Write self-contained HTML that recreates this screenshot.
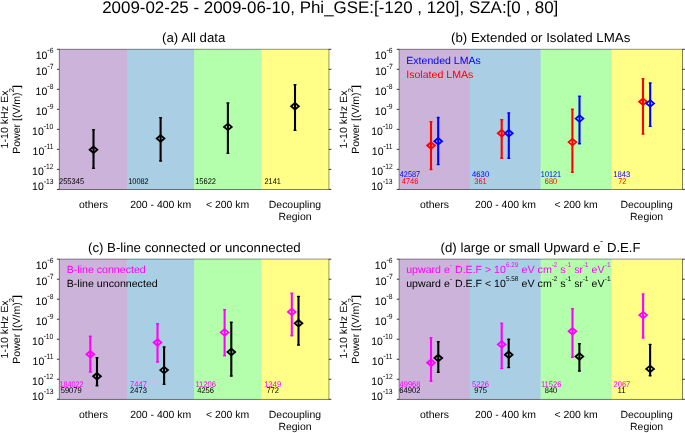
<!DOCTYPE html>
<html><head><meta charset="utf-8"><style>
html,body{margin:0;padding:0;background:#fff;}
svg{display:block;will-change:transform;}
text{font-family:"Liberation Sans", sans-serif;text-rendering:geometricPrecision;}
</style></head><body>
<svg width="685" height="433" viewBox="0 0 685 433">
<rect x="0" y="0" width="685" height="433" fill="#fff"/>
<rect x="59.30" y="49.30" width="269.50" height="140.10" fill="none" stroke="#222" stroke-width="0.8"/>
<g opacity="0.7">
<rect x="59.30" y="49.30" width="68.80" height="140.10" fill="#b694ca"/>
<rect x="127.10" y="49.30" width="68.00" height="140.10" fill="#87bcdb"/>
<rect x="194.10" y="49.30" width="68.20" height="140.10" fill="#94ff88"/>
<rect x="261.30" y="49.30" width="67.50" height="140.10" fill="#ffff55"/>
</g>
<line x1="56.90" y1="49.30" x2="59.30" y2="49.30" stroke="#222" stroke-width="0.9"/>
<line x1="328.80" y1="49.30" x2="331.30" y2="49.30" stroke="#222" stroke-width="0.9"/>
<line x1="56.90" y1="69.31" x2="59.30" y2="69.31" stroke="#222" stroke-width="0.9"/>
<line x1="328.80" y1="69.31" x2="331.30" y2="69.31" stroke="#222" stroke-width="0.9"/>
<line x1="56.90" y1="89.33" x2="59.30" y2="89.33" stroke="#222" stroke-width="0.9"/>
<line x1="328.80" y1="89.33" x2="331.30" y2="89.33" stroke="#222" stroke-width="0.9"/>
<line x1="56.90" y1="109.34" x2="59.30" y2="109.34" stroke="#222" stroke-width="0.9"/>
<line x1="328.80" y1="109.34" x2="331.30" y2="109.34" stroke="#222" stroke-width="0.9"/>
<line x1="56.90" y1="129.36" x2="59.30" y2="129.36" stroke="#222" stroke-width="0.9"/>
<line x1="328.80" y1="129.36" x2="331.30" y2="129.36" stroke="#222" stroke-width="0.9"/>
<line x1="56.90" y1="149.37" x2="59.30" y2="149.37" stroke="#222" stroke-width="0.9"/>
<line x1="328.80" y1="149.37" x2="331.30" y2="149.37" stroke="#222" stroke-width="0.9"/>
<line x1="56.90" y1="169.39" x2="59.30" y2="169.39" stroke="#222" stroke-width="0.9"/>
<line x1="328.80" y1="169.39" x2="331.30" y2="169.39" stroke="#222" stroke-width="0.9"/>
<line x1="56.90" y1="189.40" x2="59.30" y2="189.40" stroke="#222" stroke-width="0.9"/>
<line x1="328.80" y1="189.40" x2="331.30" y2="189.40" stroke="#222" stroke-width="0.9"/>
<rect x="399.20" y="49.30" width="283.20" height="140.10" fill="none" stroke="#222" stroke-width="0.8"/>
<g opacity="0.7">
<rect x="399.20" y="49.30" width="71.80" height="140.10" fill="#b694ca"/>
<rect x="470.00" y="49.30" width="71.60" height="140.10" fill="#87bcdb"/>
<rect x="540.60" y="49.30" width="71.90" height="140.10" fill="#94ff88"/>
<rect x="611.50" y="49.30" width="70.90" height="140.10" fill="#ffff55"/>
</g>
<line x1="396.80" y1="49.30" x2="399.20" y2="49.30" stroke="#222" stroke-width="0.9"/>
<line x1="682.40" y1="49.30" x2="684.90" y2="49.30" stroke="#222" stroke-width="0.9"/>
<line x1="396.80" y1="69.31" x2="399.20" y2="69.31" stroke="#222" stroke-width="0.9"/>
<line x1="682.40" y1="69.31" x2="684.90" y2="69.31" stroke="#222" stroke-width="0.9"/>
<line x1="396.80" y1="89.33" x2="399.20" y2="89.33" stroke="#222" stroke-width="0.9"/>
<line x1="682.40" y1="89.33" x2="684.90" y2="89.33" stroke="#222" stroke-width="0.9"/>
<line x1="396.80" y1="109.34" x2="399.20" y2="109.34" stroke="#222" stroke-width="0.9"/>
<line x1="682.40" y1="109.34" x2="684.90" y2="109.34" stroke="#222" stroke-width="0.9"/>
<line x1="396.80" y1="129.36" x2="399.20" y2="129.36" stroke="#222" stroke-width="0.9"/>
<line x1="682.40" y1="129.36" x2="684.90" y2="129.36" stroke="#222" stroke-width="0.9"/>
<line x1="396.80" y1="149.37" x2="399.20" y2="149.37" stroke="#222" stroke-width="0.9"/>
<line x1="682.40" y1="149.37" x2="684.90" y2="149.37" stroke="#222" stroke-width="0.9"/>
<line x1="396.80" y1="169.39" x2="399.20" y2="169.39" stroke="#222" stroke-width="0.9"/>
<line x1="682.40" y1="169.39" x2="684.90" y2="169.39" stroke="#222" stroke-width="0.9"/>
<line x1="396.80" y1="189.40" x2="399.20" y2="189.40" stroke="#222" stroke-width="0.9"/>
<line x1="682.40" y1="189.40" x2="684.90" y2="189.40" stroke="#222" stroke-width="0.9"/>
<rect x="59.30" y="259.20" width="269.50" height="140.10" fill="none" stroke="#222" stroke-width="0.8"/>
<g opacity="0.7">
<rect x="59.30" y="259.20" width="68.80" height="140.10" fill="#b694ca"/>
<rect x="127.10" y="259.20" width="68.00" height="140.10" fill="#87bcdb"/>
<rect x="194.10" y="259.20" width="68.20" height="140.10" fill="#94ff88"/>
<rect x="261.30" y="259.20" width="67.50" height="140.10" fill="#ffff55"/>
</g>
<line x1="56.90" y1="259.20" x2="59.30" y2="259.20" stroke="#222" stroke-width="0.9"/>
<line x1="328.80" y1="259.20" x2="331.30" y2="259.20" stroke="#222" stroke-width="0.9"/>
<line x1="56.90" y1="279.21" x2="59.30" y2="279.21" stroke="#222" stroke-width="0.9"/>
<line x1="328.80" y1="279.21" x2="331.30" y2="279.21" stroke="#222" stroke-width="0.9"/>
<line x1="56.90" y1="299.23" x2="59.30" y2="299.23" stroke="#222" stroke-width="0.9"/>
<line x1="328.80" y1="299.23" x2="331.30" y2="299.23" stroke="#222" stroke-width="0.9"/>
<line x1="56.90" y1="319.24" x2="59.30" y2="319.24" stroke="#222" stroke-width="0.9"/>
<line x1="328.80" y1="319.24" x2="331.30" y2="319.24" stroke="#222" stroke-width="0.9"/>
<line x1="56.90" y1="339.26" x2="59.30" y2="339.26" stroke="#222" stroke-width="0.9"/>
<line x1="328.80" y1="339.26" x2="331.30" y2="339.26" stroke="#222" stroke-width="0.9"/>
<line x1="56.90" y1="359.27" x2="59.30" y2="359.27" stroke="#222" stroke-width="0.9"/>
<line x1="328.80" y1="359.27" x2="331.30" y2="359.27" stroke="#222" stroke-width="0.9"/>
<line x1="56.90" y1="379.29" x2="59.30" y2="379.29" stroke="#222" stroke-width="0.9"/>
<line x1="328.80" y1="379.29" x2="331.30" y2="379.29" stroke="#222" stroke-width="0.9"/>
<line x1="56.90" y1="399.30" x2="59.30" y2="399.30" stroke="#222" stroke-width="0.9"/>
<line x1="328.80" y1="399.30" x2="331.30" y2="399.30" stroke="#222" stroke-width="0.9"/>
<rect x="399.20" y="259.20" width="283.20" height="140.10" fill="none" stroke="#222" stroke-width="0.8"/>
<g opacity="0.7">
<rect x="399.20" y="259.20" width="71.80" height="140.10" fill="#b694ca"/>
<rect x="470.00" y="259.20" width="71.60" height="140.10" fill="#87bcdb"/>
<rect x="540.60" y="259.20" width="71.90" height="140.10" fill="#94ff88"/>
<rect x="611.50" y="259.20" width="70.90" height="140.10" fill="#ffff55"/>
</g>
<line x1="396.80" y1="259.20" x2="399.20" y2="259.20" stroke="#222" stroke-width="0.9"/>
<line x1="682.40" y1="259.20" x2="684.90" y2="259.20" stroke="#222" stroke-width="0.9"/>
<line x1="396.80" y1="279.21" x2="399.20" y2="279.21" stroke="#222" stroke-width="0.9"/>
<line x1="682.40" y1="279.21" x2="684.90" y2="279.21" stroke="#222" stroke-width="0.9"/>
<line x1="396.80" y1="299.23" x2="399.20" y2="299.23" stroke="#222" stroke-width="0.9"/>
<line x1="682.40" y1="299.23" x2="684.90" y2="299.23" stroke="#222" stroke-width="0.9"/>
<line x1="396.80" y1="319.24" x2="399.20" y2="319.24" stroke="#222" stroke-width="0.9"/>
<line x1="682.40" y1="319.24" x2="684.90" y2="319.24" stroke="#222" stroke-width="0.9"/>
<line x1="396.80" y1="339.26" x2="399.20" y2="339.26" stroke="#222" stroke-width="0.9"/>
<line x1="682.40" y1="339.26" x2="684.90" y2="339.26" stroke="#222" stroke-width="0.9"/>
<line x1="396.80" y1="359.27" x2="399.20" y2="359.27" stroke="#222" stroke-width="0.9"/>
<line x1="682.40" y1="359.27" x2="684.90" y2="359.27" stroke="#222" stroke-width="0.9"/>
<line x1="396.80" y1="379.29" x2="399.20" y2="379.29" stroke="#222" stroke-width="0.9"/>
<line x1="682.40" y1="379.29" x2="684.90" y2="379.29" stroke="#222" stroke-width="0.9"/>
<line x1="396.80" y1="399.30" x2="399.20" y2="399.30" stroke="#222" stroke-width="0.9"/>
<line x1="682.40" y1="399.30" x2="684.90" y2="399.30" stroke="#222" stroke-width="0.9"/>
<line x1="93.50" y1="129.70" x2="93.50" y2="168.40" stroke="#000" stroke-width="2.1"/>
<line x1="92.65" y1="129.85" x2="94.35" y2="129.85" stroke="#000" stroke-width="1.5" stroke-linecap="round"/>
<line x1="92.65" y1="168.25" x2="94.35" y2="168.25" stroke="#000" stroke-width="1.5" stroke-linecap="round"/>
<path d="M89.65,149.70 L93.50,146.45 L97.35,149.70 L93.50,152.95 Z" fill="none" stroke="#000" stroke-width="1.8" stroke-linejoin="miter"/>
<line x1="160.60" y1="117.50" x2="160.60" y2="161.20" stroke="#000" stroke-width="2.1"/>
<line x1="159.75" y1="117.65" x2="161.45" y2="117.65" stroke="#000" stroke-width="1.5" stroke-linecap="round"/>
<line x1="159.75" y1="161.05" x2="161.45" y2="161.05" stroke="#000" stroke-width="1.5" stroke-linecap="round"/>
<path d="M156.75,138.50 L160.60,135.25 L164.45,138.50 L160.60,141.75 Z" fill="none" stroke="#000" stroke-width="1.8" stroke-linejoin="miter"/>
<line x1="227.90" y1="102.80" x2="227.90" y2="153.30" stroke="#000" stroke-width="2.1"/>
<line x1="227.05" y1="102.95" x2="228.75" y2="102.95" stroke="#000" stroke-width="1.5" stroke-linecap="round"/>
<line x1="227.05" y1="153.15" x2="228.75" y2="153.15" stroke="#000" stroke-width="1.5" stroke-linecap="round"/>
<path d="M224.05,126.90 L227.90,123.65 L231.75,126.90 L227.90,130.15 Z" fill="none" stroke="#000" stroke-width="1.8" stroke-linejoin="miter"/>
<line x1="295.00" y1="84.60" x2="295.00" y2="130.30" stroke="#000" stroke-width="2.1"/>
<line x1="294.15" y1="84.75" x2="295.85" y2="84.75" stroke="#000" stroke-width="1.5" stroke-linecap="round"/>
<line x1="294.15" y1="130.15" x2="295.85" y2="130.15" stroke="#000" stroke-width="1.5" stroke-linecap="round"/>
<path d="M291.15,106.30 L295.00,103.05 L298.85,106.30 L295.00,109.55 Z" fill="none" stroke="#000" stroke-width="1.8" stroke-linejoin="miter"/>
<line x1="431.00" y1="121.70" x2="431.00" y2="169.60" stroke="#ff0000" stroke-width="2.1"/>
<line x1="430.15" y1="121.85" x2="431.85" y2="121.85" stroke="#ff0000" stroke-width="1.5" stroke-linecap="round"/>
<line x1="430.15" y1="169.45" x2="431.85" y2="169.45" stroke="#ff0000" stroke-width="1.5" stroke-linecap="round"/>
<path d="M427.15,145.50 L431.00,142.25 L434.85,145.50 L431.00,148.75 Z" fill="none" stroke="#ff0000" stroke-width="1.8" stroke-linejoin="miter"/>
<line x1="438.20" y1="117.30" x2="438.20" y2="164.60" stroke="#0000ff" stroke-width="2.1"/>
<line x1="437.35" y1="117.45" x2="439.05" y2="117.45" stroke="#0000ff" stroke-width="1.5" stroke-linecap="round"/>
<line x1="437.35" y1="164.45" x2="439.05" y2="164.45" stroke="#0000ff" stroke-width="1.5" stroke-linecap="round"/>
<path d="M434.35,141.30 L438.20,138.05 L442.05,141.30 L438.20,144.55 Z" fill="none" stroke="#0000ff" stroke-width="1.8" stroke-linejoin="miter"/>
<line x1="501.70" y1="119.50" x2="501.70" y2="158.40" stroke="#ff0000" stroke-width="2.1"/>
<line x1="500.85" y1="119.65" x2="502.55" y2="119.65" stroke="#ff0000" stroke-width="1.5" stroke-linecap="round"/>
<line x1="500.85" y1="158.25" x2="502.55" y2="158.25" stroke="#ff0000" stroke-width="1.5" stroke-linecap="round"/>
<path d="M497.85,133.30 L501.70,130.05 L505.55,133.30 L501.70,136.55 Z" fill="none" stroke="#ff0000" stroke-width="1.8" stroke-linejoin="miter"/>
<line x1="508.80" y1="112.80" x2="508.80" y2="158.30" stroke="#0000ff" stroke-width="2.1"/>
<line x1="507.95" y1="112.95" x2="509.65" y2="112.95" stroke="#0000ff" stroke-width="1.5" stroke-linecap="round"/>
<line x1="507.95" y1="158.15" x2="509.65" y2="158.15" stroke="#0000ff" stroke-width="1.5" stroke-linecap="round"/>
<path d="M504.95,133.30 L508.80,130.05 L512.65,133.30 L508.80,136.55 Z" fill="none" stroke="#0000ff" stroke-width="1.8" stroke-linejoin="miter"/>
<line x1="572.40" y1="109.00" x2="572.40" y2="172.30" stroke="#ff0000" stroke-width="2.1"/>
<line x1="571.55" y1="109.15" x2="573.25" y2="109.15" stroke="#ff0000" stroke-width="1.5" stroke-linecap="round"/>
<line x1="571.55" y1="172.15" x2="573.25" y2="172.15" stroke="#ff0000" stroke-width="1.5" stroke-linecap="round"/>
<path d="M568.55,142.10 L572.40,138.85 L576.25,142.10 L572.40,145.35 Z" fill="none" stroke="#ff0000" stroke-width="1.8" stroke-linejoin="miter"/>
<line x1="579.50" y1="96.10" x2="579.50" y2="143.80" stroke="#0000ff" stroke-width="2.1"/>
<line x1="578.65" y1="96.25" x2="580.35" y2="96.25" stroke="#0000ff" stroke-width="1.5" stroke-linecap="round"/>
<line x1="578.65" y1="143.65" x2="580.35" y2="143.65" stroke="#0000ff" stroke-width="1.5" stroke-linecap="round"/>
<path d="M575.65,118.60 L579.50,115.35 L583.35,118.60 L579.50,121.85 Z" fill="none" stroke="#0000ff" stroke-width="1.8" stroke-linejoin="miter"/>
<line x1="643.00" y1="78.60" x2="643.00" y2="134.20" stroke="#ff0000" stroke-width="2.1"/>
<line x1="642.15" y1="78.75" x2="643.85" y2="78.75" stroke="#ff0000" stroke-width="1.5" stroke-linecap="round"/>
<line x1="642.15" y1="134.05" x2="643.85" y2="134.05" stroke="#ff0000" stroke-width="1.5" stroke-linecap="round"/>
<path d="M639.15,101.70 L643.00,98.45 L646.85,101.70 L643.00,104.95 Z" fill="none" stroke="#ff0000" stroke-width="1.8" stroke-linejoin="miter"/>
<line x1="650.20" y1="82.90" x2="650.20" y2="126.50" stroke="#0000ff" stroke-width="2.1"/>
<line x1="649.35" y1="83.05" x2="651.05" y2="83.05" stroke="#0000ff" stroke-width="1.5" stroke-linecap="round"/>
<line x1="649.35" y1="126.35" x2="651.05" y2="126.35" stroke="#0000ff" stroke-width="1.5" stroke-linecap="round"/>
<path d="M646.35,103.40 L650.20,100.15 L654.05,103.40 L650.20,106.65 Z" fill="none" stroke="#0000ff" stroke-width="1.8" stroke-linejoin="miter"/>
<line x1="90.30" y1="336.20" x2="90.30" y2="372.20" stroke="#ff00ff" stroke-width="2.1"/>
<line x1="89.45" y1="336.35" x2="91.15" y2="336.35" stroke="#ff00ff" stroke-width="1.5" stroke-linecap="round"/>
<line x1="89.45" y1="372.05" x2="91.15" y2="372.05" stroke="#ff00ff" stroke-width="1.5" stroke-linecap="round"/>
<path d="M86.45,354.30 L90.30,351.05 L94.15,354.30 L90.30,357.55 Z" fill="none" stroke="#ff00ff" stroke-width="1.8" stroke-linejoin="miter"/>
<line x1="97.00" y1="357.70" x2="97.00" y2="385.90" stroke="#000" stroke-width="2.1"/>
<line x1="96.15" y1="357.85" x2="97.85" y2="357.85" stroke="#000" stroke-width="1.5" stroke-linecap="round"/>
<line x1="96.15" y1="385.75" x2="97.85" y2="385.75" stroke="#000" stroke-width="1.5" stroke-linecap="round"/>
<path d="M93.15,376.20 L97.00,372.95 L100.85,376.20 L97.00,379.45 Z" fill="none" stroke="#000" stroke-width="1.8" stroke-linejoin="miter"/>
<line x1="157.50" y1="323.60" x2="157.50" y2="362.20" stroke="#ff00ff" stroke-width="2.1"/>
<line x1="156.65" y1="323.75" x2="158.35" y2="323.75" stroke="#ff00ff" stroke-width="1.5" stroke-linecap="round"/>
<line x1="156.65" y1="362.05" x2="158.35" y2="362.05" stroke="#ff00ff" stroke-width="1.5" stroke-linecap="round"/>
<path d="M153.65,342.50 L157.50,339.25 L161.35,342.50 L157.50,345.75 Z" fill="none" stroke="#ff00ff" stroke-width="1.8" stroke-linejoin="miter"/>
<line x1="164.10" y1="346.80" x2="164.10" y2="384.40" stroke="#000" stroke-width="2.1"/>
<line x1="163.25" y1="346.95" x2="164.95" y2="346.95" stroke="#000" stroke-width="1.5" stroke-linecap="round"/>
<line x1="163.25" y1="384.25" x2="164.95" y2="384.25" stroke="#000" stroke-width="1.5" stroke-linecap="round"/>
<path d="M160.25,370.10 L164.10,366.85 L167.95,370.10 L164.10,373.35 Z" fill="none" stroke="#000" stroke-width="1.8" stroke-linejoin="miter"/>
<line x1="224.60" y1="309.70" x2="224.60" y2="356.00" stroke="#ff00ff" stroke-width="2.1"/>
<line x1="223.75" y1="309.85" x2="225.45" y2="309.85" stroke="#ff00ff" stroke-width="1.5" stroke-linecap="round"/>
<line x1="223.75" y1="355.85" x2="225.45" y2="355.85" stroke="#ff00ff" stroke-width="1.5" stroke-linecap="round"/>
<path d="M220.75,332.40 L224.60,329.15 L228.45,332.40 L224.60,335.65 Z" fill="none" stroke="#ff00ff" stroke-width="1.8" stroke-linejoin="miter"/>
<line x1="231.30" y1="322.20" x2="231.30" y2="376.20" stroke="#000" stroke-width="2.1"/>
<line x1="230.45" y1="322.35" x2="232.15" y2="322.35" stroke="#000" stroke-width="1.5" stroke-linecap="round"/>
<line x1="230.45" y1="376.05" x2="232.15" y2="376.05" stroke="#000" stroke-width="1.5" stroke-linecap="round"/>
<path d="M227.45,352.00 L231.30,348.75 L235.15,352.00 L231.30,355.25 Z" fill="none" stroke="#000" stroke-width="1.8" stroke-linejoin="miter"/>
<line x1="291.80" y1="293.00" x2="291.80" y2="336.00" stroke="#ff00ff" stroke-width="2.1"/>
<line x1="290.95" y1="293.15" x2="292.65" y2="293.15" stroke="#ff00ff" stroke-width="1.5" stroke-linecap="round"/>
<line x1="290.95" y1="335.85" x2="292.65" y2="335.85" stroke="#ff00ff" stroke-width="1.5" stroke-linecap="round"/>
<path d="M287.95,311.90 L291.80,308.65 L295.65,311.90 L291.80,315.15 Z" fill="none" stroke="#ff00ff" stroke-width="1.8" stroke-linejoin="miter"/>
<line x1="298.50" y1="296.30" x2="298.50" y2="345.20" stroke="#000" stroke-width="2.1"/>
<line x1="297.65" y1="296.45" x2="299.35" y2="296.45" stroke="#000" stroke-width="1.5" stroke-linecap="round"/>
<line x1="297.65" y1="345.05" x2="299.35" y2="345.05" stroke="#000" stroke-width="1.5" stroke-linecap="round"/>
<path d="M294.65,323.20 L298.50,319.95 L302.35,323.20 L298.50,326.45 Z" fill="none" stroke="#000" stroke-width="1.8" stroke-linejoin="miter"/>
<line x1="431.00" y1="337.50" x2="431.00" y2="381.50" stroke="#ff00ff" stroke-width="2.1"/>
<line x1="430.15" y1="337.65" x2="431.85" y2="337.65" stroke="#ff00ff" stroke-width="1.5" stroke-linecap="round"/>
<line x1="430.15" y1="381.35" x2="431.85" y2="381.35" stroke="#ff00ff" stroke-width="1.5" stroke-linecap="round"/>
<path d="M427.15,362.70 L431.00,359.45 L434.85,362.70 L431.00,365.95 Z" fill="none" stroke="#ff00ff" stroke-width="1.8" stroke-linejoin="miter"/>
<line x1="438.30" y1="341.70" x2="438.30" y2="372.40" stroke="#000" stroke-width="2.1"/>
<line x1="437.45" y1="341.85" x2="439.15" y2="341.85" stroke="#000" stroke-width="1.5" stroke-linecap="round"/>
<line x1="437.45" y1="372.25" x2="439.15" y2="372.25" stroke="#000" stroke-width="1.5" stroke-linecap="round"/>
<path d="M434.45,358.00 L438.30,354.75 L442.15,358.00 L438.30,361.25 Z" fill="none" stroke="#000" stroke-width="1.8" stroke-linejoin="miter"/>
<line x1="501.70" y1="323.20" x2="501.70" y2="368.70" stroke="#ff00ff" stroke-width="2.1"/>
<line x1="500.85" y1="323.35" x2="502.55" y2="323.35" stroke="#ff00ff" stroke-width="1.5" stroke-linecap="round"/>
<line x1="500.85" y1="368.55" x2="502.55" y2="368.55" stroke="#ff00ff" stroke-width="1.5" stroke-linecap="round"/>
<path d="M497.85,344.40 L501.70,341.15 L505.55,344.40 L501.70,347.65 Z" fill="none" stroke="#ff00ff" stroke-width="1.8" stroke-linejoin="miter"/>
<line x1="508.70" y1="339.20" x2="508.70" y2="367.70" stroke="#000" stroke-width="2.1"/>
<line x1="507.85" y1="339.35" x2="509.55" y2="339.35" stroke="#000" stroke-width="1.5" stroke-linecap="round"/>
<line x1="507.85" y1="367.55" x2="509.55" y2="367.55" stroke="#000" stroke-width="1.5" stroke-linecap="round"/>
<path d="M504.85,354.70 L508.70,351.45 L512.55,354.70 L508.70,357.95 Z" fill="none" stroke="#000" stroke-width="1.8" stroke-linejoin="miter"/>
<line x1="572.50" y1="308.50" x2="572.50" y2="357.40" stroke="#ff00ff" stroke-width="2.1"/>
<line x1="571.65" y1="308.65" x2="573.35" y2="308.65" stroke="#ff00ff" stroke-width="1.5" stroke-linecap="round"/>
<line x1="571.65" y1="357.25" x2="573.35" y2="357.25" stroke="#ff00ff" stroke-width="1.5" stroke-linecap="round"/>
<path d="M568.65,331.30 L572.50,328.05 L576.35,331.30 L572.50,334.55 Z" fill="none" stroke="#ff00ff" stroke-width="1.8" stroke-linejoin="miter"/>
<line x1="579.40" y1="343.60" x2="579.40" y2="371.20" stroke="#000" stroke-width="2.1"/>
<line x1="578.55" y1="343.75" x2="580.25" y2="343.75" stroke="#000" stroke-width="1.5" stroke-linecap="round"/>
<line x1="578.55" y1="371.05" x2="580.25" y2="371.05" stroke="#000" stroke-width="1.5" stroke-linecap="round"/>
<path d="M575.55,356.50 L579.40,353.25 L583.25,356.50 L579.40,359.75 Z" fill="none" stroke="#000" stroke-width="1.8" stroke-linejoin="miter"/>
<line x1="643.10" y1="293.90" x2="643.10" y2="338.10" stroke="#ff00ff" stroke-width="2.1"/>
<line x1="642.25" y1="294.05" x2="643.95" y2="294.05" stroke="#ff00ff" stroke-width="1.5" stroke-linecap="round"/>
<line x1="642.25" y1="337.95" x2="643.95" y2="337.95" stroke="#ff00ff" stroke-width="1.5" stroke-linecap="round"/>
<path d="M639.25,315.10 L643.10,311.85 L646.95,315.10 L643.10,318.35 Z" fill="none" stroke="#ff00ff" stroke-width="1.8" stroke-linejoin="miter"/>
<line x1="650.10" y1="344.40" x2="650.10" y2="376.00" stroke="#000" stroke-width="2.1"/>
<line x1="649.25" y1="344.55" x2="650.95" y2="344.55" stroke="#000" stroke-width="1.5" stroke-linecap="round"/>
<line x1="649.25" y1="375.85" x2="650.95" y2="375.85" stroke="#000" stroke-width="1.5" stroke-linecap="round"/>
<path d="M646.25,368.90 L650.10,365.65 L653.95,368.90 L650.10,372.15 Z" fill="none" stroke="#000" stroke-width="1.8" stroke-linejoin="miter"/>
<text transform="translate(102.15,12.50) scale(1.0017,1)" font-size="16.90" fill="#000" font-family='"Liberation Sans", sans-serif'>2009-02-25 - 2009-06-10, Phi_GSE:[-120 , 120], SZA:[0 , 80]</text>
<text transform="translate(162.07,41.90) scale(1.0191,1)" font-size="13.00" fill="#000" font-family='"Liberation Sans", sans-serif'>(a) All data</text>
<text transform="translate(450.97,41.90) scale(1.0211,1)" font-size="13.00" fill="#000" font-family='"Liberation Sans", sans-serif'>(b) Extended or Isolated LMAs</text>
<text transform="translate(87.97,251.80) scale(1.0187,1)" font-size="13.00" fill="#000" font-family='"Liberation Sans", sans-serif'>(c) B-line connected or unconnected</text>
<text transform="translate(440.57,251.80) scale(1.0192,1)" font-size="13.00" fill="#000" font-family='"Liberation Sans", sans-serif'>(d) large or small Upward e</text>
<text transform="translate(600.09,244.00) scale(1.0080,1)" font-size="9.00" fill="#000" font-family='"Liberation Sans", sans-serif'>-</text>
<text transform="translate(606.92,251.80) scale(1.0088,1)" font-size="13.00" fill="#000" font-family='"Liberation Sans", sans-serif'>D.E.F</text>
<text transform="translate(78.98,207.90) scale(1.0050,1)" font-size="10.40" fill="#000" font-family='"Liberation Sans", sans-serif'>others</text>
<text transform="translate(130.18,207.90) scale(1.0050,1)" font-size="10.40" fill="#000" font-family='"Liberation Sans", sans-serif'>200 - 400 km</text>
<text transform="translate(205.99,207.90) scale(1.0050,1)" font-size="10.40" fill="#000" font-family='"Liberation Sans", sans-serif'>&lt; 200 km</text>
<text transform="translate(268.80,207.90) scale(1.0050,1)" font-size="10.40" fill="#000" font-family='"Liberation Sans", sans-serif'>Decoupling</text>
<text transform="translate(278.41,220.20) scale(1.0050,1)" font-size="10.40" fill="#000" font-family='"Liberation Sans", sans-serif'>Region</text>
<text transform="translate(419.98,207.90) scale(1.0050,1)" font-size="10.40" fill="#000" font-family='"Liberation Sans", sans-serif'>others</text>
<text transform="translate(474.88,207.90) scale(1.0050,1)" font-size="10.40" fill="#000" font-family='"Liberation Sans", sans-serif'>200 - 400 km</text>
<text transform="translate(554.44,207.90) scale(1.0050,1)" font-size="10.40" fill="#000" font-family='"Liberation Sans", sans-serif'>&lt; 200 km</text>
<text transform="translate(620.45,207.90) scale(1.0050,1)" font-size="10.40" fill="#000" font-family='"Liberation Sans", sans-serif'>Decoupling</text>
<text transform="translate(630.06,220.20) scale(1.0050,1)" font-size="10.40" fill="#000" font-family='"Liberation Sans", sans-serif'>Region</text>
<text transform="translate(78.98,417.90) scale(1.0050,1)" font-size="10.40" fill="#000" font-family='"Liberation Sans", sans-serif'>others</text>
<text transform="translate(130.18,417.90) scale(1.0050,1)" font-size="10.40" fill="#000" font-family='"Liberation Sans", sans-serif'>200 - 400 km</text>
<text transform="translate(205.99,417.90) scale(1.0050,1)" font-size="10.40" fill="#000" font-family='"Liberation Sans", sans-serif'>&lt; 200 km</text>
<text transform="translate(268.80,417.90) scale(1.0050,1)" font-size="10.40" fill="#000" font-family='"Liberation Sans", sans-serif'>Decoupling</text>
<text transform="translate(278.41,430.20) scale(1.0050,1)" font-size="10.40" fill="#000" font-family='"Liberation Sans", sans-serif'>Region</text>
<text transform="translate(419.98,417.90) scale(1.0050,1)" font-size="10.40" fill="#000" font-family='"Liberation Sans", sans-serif'>others</text>
<text transform="translate(474.88,417.90) scale(1.0050,1)" font-size="10.40" fill="#000" font-family='"Liberation Sans", sans-serif'>200 - 400 km</text>
<text transform="translate(554.44,417.90) scale(1.0050,1)" font-size="10.40" fill="#000" font-family='"Liberation Sans", sans-serif'>&lt; 200 km</text>
<text transform="translate(620.45,417.90) scale(1.0050,1)" font-size="10.40" fill="#000" font-family='"Liberation Sans", sans-serif'>Decoupling</text>
<text transform="translate(630.06,430.20) scale(1.0050,1)" font-size="10.40" fill="#000" font-family='"Liberation Sans", sans-serif'>Region</text>
<text transform="translate(49.64,52.65) scale(0.9000,1)" font-size="7.50" fill="#000" font-family='"Liberation Sans", sans-serif'>6</text>
<rect x="47.53" y="49.95" width="1.90" height="0.75" fill="#000" fill-opacity="0.85"/>
<text transform="translate(35.64,58.65) scale(0.9657,1)" font-size="10.90" fill="#000" font-family='"Liberation Sans", sans-serif'>10</text>
<text transform="translate(49.69,68.66) scale(0.9000,1)" font-size="7.50" fill="#000" font-family='"Liberation Sans", sans-serif'>7</text>
<rect x="47.60" y="65.96" width="1.90" height="0.75" fill="#000" fill-opacity="0.85"/>
<text transform="translate(35.71,74.66) scale(0.9657,1)" font-size="10.90" fill="#000" font-family='"Liberation Sans", sans-serif'>10</text>
<text transform="translate(49.64,88.68) scale(0.9000,1)" font-size="7.50" fill="#000" font-family='"Liberation Sans", sans-serif'>8</text>
<rect x="47.48" y="85.98" width="1.90" height="0.75" fill="#000" fill-opacity="0.85"/>
<text transform="translate(35.59,94.68) scale(0.9657,1)" font-size="10.90" fill="#000" font-family='"Liberation Sans", sans-serif'>10</text>
<text transform="translate(49.66,108.69) scale(0.9000,1)" font-size="7.50" fill="#000" font-family='"Liberation Sans", sans-serif'>9</text>
<rect x="47.53" y="105.99" width="1.90" height="0.75" fill="#000" fill-opacity="0.85"/>
<text transform="translate(35.64,114.69) scale(0.9657,1)" font-size="10.90" fill="#000" font-family='"Liberation Sans", sans-serif'>10</text>
<text transform="translate(45.86,128.71) scale(0.9000,1)" font-size="7.50" fill="#000" font-family='"Liberation Sans", sans-serif'>10</text>
<rect x="43.92" y="126.01" width="1.90" height="0.75" fill="#000" fill-opacity="0.85"/>
<text transform="translate(32.03,134.71) scale(0.9657,1)" font-size="10.90" fill="#000" font-family='"Liberation Sans", sans-serif'>10</text>
<text transform="translate(46.42,148.72) scale(0.9000,1)" font-size="7.50" fill="#000" font-family='"Liberation Sans", sans-serif'>11</text>
<rect x="44.47" y="146.02" width="1.90" height="0.75" fill="#000" fill-opacity="0.85"/>
<text transform="translate(32.58,154.72) scale(0.9657,1)" font-size="10.90" fill="#000" font-family='"Liberation Sans", sans-serif'>10</text>
<text transform="translate(45.95,168.74) scale(0.9000,1)" font-size="7.50" fill="#000" font-family='"Liberation Sans", sans-serif'>12</text>
<rect x="44.00" y="166.04" width="1.90" height="0.75" fill="#000" fill-opacity="0.85"/>
<text transform="translate(32.11,174.74) scale(0.9657,1)" font-size="10.90" fill="#000" font-family='"Liberation Sans", sans-serif'>10</text>
<text transform="translate(45.89,184.25) scale(0.9000,1)" font-size="7.50" fill="#000" font-family='"Liberation Sans", sans-serif'>13</text>
<rect x="43.95" y="181.55" width="1.90" height="0.75" fill="#000" fill-opacity="0.85"/>
<text transform="translate(32.06,190.25) scale(0.9657,1)" font-size="10.90" fill="#000" font-family='"Liberation Sans", sans-serif'>10</text>
<text transform="translate(388.84,52.65) scale(0.9000,1)" font-size="7.50" fill="#000" font-family='"Liberation Sans", sans-serif'>6</text>
<rect x="386.73" y="49.95" width="1.90" height="0.75" fill="#000" fill-opacity="0.85"/>
<text transform="translate(374.84,58.65) scale(0.9657,1)" font-size="10.90" fill="#000" font-family='"Liberation Sans", sans-serif'>10</text>
<text transform="translate(388.89,68.66) scale(0.9000,1)" font-size="7.50" fill="#000" font-family='"Liberation Sans", sans-serif'>7</text>
<rect x="386.80" y="65.96" width="1.90" height="0.75" fill="#000" fill-opacity="0.85"/>
<text transform="translate(374.91,74.66) scale(0.9657,1)" font-size="10.90" fill="#000" font-family='"Liberation Sans", sans-serif'>10</text>
<text transform="translate(388.84,88.68) scale(0.9000,1)" font-size="7.50" fill="#000" font-family='"Liberation Sans", sans-serif'>8</text>
<rect x="386.68" y="85.98" width="1.90" height="0.75" fill="#000" fill-opacity="0.85"/>
<text transform="translate(374.79,94.68) scale(0.9657,1)" font-size="10.90" fill="#000" font-family='"Liberation Sans", sans-serif'>10</text>
<text transform="translate(388.86,108.69) scale(0.9000,1)" font-size="7.50" fill="#000" font-family='"Liberation Sans", sans-serif'>9</text>
<rect x="386.73" y="105.99" width="1.90" height="0.75" fill="#000" fill-opacity="0.85"/>
<text transform="translate(374.84,114.69) scale(0.9657,1)" font-size="10.90" fill="#000" font-family='"Liberation Sans", sans-serif'>10</text>
<text transform="translate(385.06,128.71) scale(0.9000,1)" font-size="7.50" fill="#000" font-family='"Liberation Sans", sans-serif'>10</text>
<rect x="383.12" y="126.01" width="1.90" height="0.75" fill="#000" fill-opacity="0.85"/>
<text transform="translate(371.23,134.71) scale(0.9657,1)" font-size="10.90" fill="#000" font-family='"Liberation Sans", sans-serif'>10</text>
<text transform="translate(385.62,148.72) scale(0.9000,1)" font-size="7.50" fill="#000" font-family='"Liberation Sans", sans-serif'>11</text>
<rect x="383.67" y="146.02" width="1.90" height="0.75" fill="#000" fill-opacity="0.85"/>
<text transform="translate(371.78,154.72) scale(0.9657,1)" font-size="10.90" fill="#000" font-family='"Liberation Sans", sans-serif'>10</text>
<text transform="translate(385.14,168.74) scale(0.9000,1)" font-size="7.50" fill="#000" font-family='"Liberation Sans", sans-serif'>12</text>
<rect x="383.20" y="166.04" width="1.90" height="0.75" fill="#000" fill-opacity="0.85"/>
<text transform="translate(371.31,174.74) scale(0.9657,1)" font-size="10.90" fill="#000" font-family='"Liberation Sans", sans-serif'>10</text>
<text transform="translate(385.09,184.25) scale(0.9000,1)" font-size="7.50" fill="#000" font-family='"Liberation Sans", sans-serif'>13</text>
<rect x="383.15" y="181.55" width="1.90" height="0.75" fill="#000" fill-opacity="0.85"/>
<text transform="translate(371.26,190.25) scale(0.9657,1)" font-size="10.90" fill="#000" font-family='"Liberation Sans", sans-serif'>10</text>
<text transform="translate(49.64,262.55) scale(0.9000,1)" font-size="7.50" fill="#000" font-family='"Liberation Sans", sans-serif'>6</text>
<rect x="47.53" y="259.85" width="1.90" height="0.75" fill="#000" fill-opacity="0.85"/>
<text transform="translate(35.64,268.55) scale(0.9657,1)" font-size="10.90" fill="#000" font-family='"Liberation Sans", sans-serif'>10</text>
<text transform="translate(49.69,278.56) scale(0.9000,1)" font-size="7.50" fill="#000" font-family='"Liberation Sans", sans-serif'>7</text>
<rect x="47.60" y="275.86" width="1.90" height="0.75" fill="#000" fill-opacity="0.85"/>
<text transform="translate(35.71,284.56) scale(0.9657,1)" font-size="10.90" fill="#000" font-family='"Liberation Sans", sans-serif'>10</text>
<text transform="translate(49.64,298.58) scale(0.9000,1)" font-size="7.50" fill="#000" font-family='"Liberation Sans", sans-serif'>8</text>
<rect x="47.48" y="295.88" width="1.90" height="0.75" fill="#000" fill-opacity="0.85"/>
<text transform="translate(35.59,304.58) scale(0.9657,1)" font-size="10.90" fill="#000" font-family='"Liberation Sans", sans-serif'>10</text>
<text transform="translate(49.66,318.59) scale(0.9000,1)" font-size="7.50" fill="#000" font-family='"Liberation Sans", sans-serif'>9</text>
<rect x="47.53" y="315.89" width="1.90" height="0.75" fill="#000" fill-opacity="0.85"/>
<text transform="translate(35.64,324.59) scale(0.9657,1)" font-size="10.90" fill="#000" font-family='"Liberation Sans", sans-serif'>10</text>
<text transform="translate(45.86,338.61) scale(0.9000,1)" font-size="7.50" fill="#000" font-family='"Liberation Sans", sans-serif'>10</text>
<rect x="43.92" y="335.91" width="1.90" height="0.75" fill="#000" fill-opacity="0.85"/>
<text transform="translate(32.03,344.61) scale(0.9657,1)" font-size="10.90" fill="#000" font-family='"Liberation Sans", sans-serif'>10</text>
<text transform="translate(46.42,358.62) scale(0.9000,1)" font-size="7.50" fill="#000" font-family='"Liberation Sans", sans-serif'>11</text>
<rect x="44.47" y="355.92" width="1.90" height="0.75" fill="#000" fill-opacity="0.85"/>
<text transform="translate(32.58,364.62) scale(0.9657,1)" font-size="10.90" fill="#000" font-family='"Liberation Sans", sans-serif'>10</text>
<text transform="translate(45.95,378.64) scale(0.9000,1)" font-size="7.50" fill="#000" font-family='"Liberation Sans", sans-serif'>12</text>
<rect x="44.00" y="375.94" width="1.90" height="0.75" fill="#000" fill-opacity="0.85"/>
<text transform="translate(32.11,384.64) scale(0.9657,1)" font-size="10.90" fill="#000" font-family='"Liberation Sans", sans-serif'>10</text>
<text transform="translate(45.89,394.15) scale(0.9000,1)" font-size="7.50" fill="#000" font-family='"Liberation Sans", sans-serif'>13</text>
<rect x="43.95" y="391.45" width="1.90" height="0.75" fill="#000" fill-opacity="0.85"/>
<text transform="translate(32.06,400.15) scale(0.9657,1)" font-size="10.90" fill="#000" font-family='"Liberation Sans", sans-serif'>10</text>
<text transform="translate(388.84,262.55) scale(0.9000,1)" font-size="7.50" fill="#000" font-family='"Liberation Sans", sans-serif'>6</text>
<rect x="386.73" y="259.85" width="1.90" height="0.75" fill="#000" fill-opacity="0.85"/>
<text transform="translate(374.84,268.55) scale(0.9657,1)" font-size="10.90" fill="#000" font-family='"Liberation Sans", sans-serif'>10</text>
<text transform="translate(388.89,278.56) scale(0.9000,1)" font-size="7.50" fill="#000" font-family='"Liberation Sans", sans-serif'>7</text>
<rect x="386.80" y="275.86" width="1.90" height="0.75" fill="#000" fill-opacity="0.85"/>
<text transform="translate(374.91,284.56) scale(0.9657,1)" font-size="10.90" fill="#000" font-family='"Liberation Sans", sans-serif'>10</text>
<text transform="translate(388.84,298.58) scale(0.9000,1)" font-size="7.50" fill="#000" font-family='"Liberation Sans", sans-serif'>8</text>
<rect x="386.68" y="295.88" width="1.90" height="0.75" fill="#000" fill-opacity="0.85"/>
<text transform="translate(374.79,304.58) scale(0.9657,1)" font-size="10.90" fill="#000" font-family='"Liberation Sans", sans-serif'>10</text>
<text transform="translate(388.86,318.59) scale(0.9000,1)" font-size="7.50" fill="#000" font-family='"Liberation Sans", sans-serif'>9</text>
<rect x="386.73" y="315.89" width="1.90" height="0.75" fill="#000" fill-opacity="0.85"/>
<text transform="translate(374.84,324.59) scale(0.9657,1)" font-size="10.90" fill="#000" font-family='"Liberation Sans", sans-serif'>10</text>
<text transform="translate(385.06,338.61) scale(0.9000,1)" font-size="7.50" fill="#000" font-family='"Liberation Sans", sans-serif'>10</text>
<rect x="383.12" y="335.91" width="1.90" height="0.75" fill="#000" fill-opacity="0.85"/>
<text transform="translate(371.23,344.61) scale(0.9657,1)" font-size="10.90" fill="#000" font-family='"Liberation Sans", sans-serif'>10</text>
<text transform="translate(385.62,358.62) scale(0.9000,1)" font-size="7.50" fill="#000" font-family='"Liberation Sans", sans-serif'>11</text>
<rect x="383.67" y="355.92" width="1.90" height="0.75" fill="#000" fill-opacity="0.85"/>
<text transform="translate(371.78,364.62) scale(0.9657,1)" font-size="10.90" fill="#000" font-family='"Liberation Sans", sans-serif'>10</text>
<text transform="translate(385.14,378.64) scale(0.9000,1)" font-size="7.50" fill="#000" font-family='"Liberation Sans", sans-serif'>12</text>
<rect x="383.20" y="375.94" width="1.90" height="0.75" fill="#000" fill-opacity="0.85"/>
<text transform="translate(371.31,384.64) scale(0.9657,1)" font-size="10.90" fill="#000" font-family='"Liberation Sans", sans-serif'>10</text>
<text transform="translate(385.09,394.15) scale(0.9000,1)" font-size="7.50" fill="#000" font-family='"Liberation Sans", sans-serif'>13</text>
<rect x="383.15" y="391.45" width="1.90" height="0.75" fill="#000" fill-opacity="0.85"/>
<text transform="translate(371.26,400.15) scale(0.9657,1)" font-size="10.90" fill="#000" font-family='"Liberation Sans", sans-serif'>10</text>
<text transform="translate(8.10,148.50) rotate(-90) scale(1.0243,1)" font-size="10.40" fill="#000" font-family='"Liberation Sans", sans-serif'>1-10 kHz Ex</text>
<text transform="translate(20.40,153.77) rotate(-90) scale(1.0127,1)" font-size="10.40" fill="#000" font-family='"Liberation Sans", sans-serif'>Power [(V/m)</text>
<text transform="translate(14.00,92.37) rotate(-90) scale(1.0236,1)" font-size="7.30" fill="#000" font-family='"Liberation Sans", sans-serif'>2</text>
<text transform="translate(20.40,88.50) rotate(-90) scale(1.2500,1)" font-size="10.40" fill="#000" font-family='"Liberation Sans", sans-serif'>]</text>
<text transform="translate(346.70,148.50) rotate(-90) scale(1.0243,1)" font-size="10.40" fill="#000" font-family='"Liberation Sans", sans-serif'>1-10 kHz Ex</text>
<text transform="translate(359.00,153.77) rotate(-90) scale(1.0127,1)" font-size="10.40" fill="#000" font-family='"Liberation Sans", sans-serif'>Power [(V/m)</text>
<text transform="translate(352.60,92.37) rotate(-90) scale(1.0236,1)" font-size="7.30" fill="#000" font-family='"Liberation Sans", sans-serif'>2</text>
<text transform="translate(359.00,88.50) rotate(-90) scale(1.2500,1)" font-size="10.40" fill="#000" font-family='"Liberation Sans", sans-serif'>]</text>
<text transform="translate(8.10,358.40) rotate(-90) scale(1.0243,1)" font-size="10.40" fill="#000" font-family='"Liberation Sans", sans-serif'>1-10 kHz Ex</text>
<text transform="translate(20.40,363.67) rotate(-90) scale(1.0127,1)" font-size="10.40" fill="#000" font-family='"Liberation Sans", sans-serif'>Power [(V/m)</text>
<text transform="translate(14.00,302.27) rotate(-90) scale(1.0236,1)" font-size="7.30" fill="#000" font-family='"Liberation Sans", sans-serif'>2</text>
<text transform="translate(20.40,298.40) rotate(-90) scale(1.2500,1)" font-size="10.40" fill="#000" font-family='"Liberation Sans", sans-serif'>]</text>
<text transform="translate(346.70,358.40) rotate(-90) scale(1.0243,1)" font-size="10.40" fill="#000" font-family='"Liberation Sans", sans-serif'>1-10 kHz Ex</text>
<text transform="translate(359.00,363.67) rotate(-90) scale(1.0127,1)" font-size="10.40" fill="#000" font-family='"Liberation Sans", sans-serif'>Power [(V/m)</text>
<text transform="translate(352.60,302.27) rotate(-90) scale(1.0236,1)" font-size="7.30" fill="#000" font-family='"Liberation Sans", sans-serif'>2</text>
<text transform="translate(359.00,298.40) rotate(-90) scale(1.2500,1)" font-size="10.40" fill="#000" font-family='"Liberation Sans", sans-serif'>]</text>
<text transform="translate(59.02,183.90) scale(0.9170,1)" font-size="8.20" fill="#000" font-family='"Liberation Sans", sans-serif'>255345</text>
<text transform="translate(128.14,183.80) scale(0.9049,1)" font-size="8.20" fill="#000" font-family='"Liberation Sans", sans-serif'>10082</text>
<text transform="translate(195.14,183.90) scale(0.9187,1)" font-size="8.20" fill="#000" font-family='"Liberation Sans", sans-serif'>15622</text>
<text transform="translate(264.43,183.90) scale(0.9010,1)" font-size="8.20" fill="#000" font-family='"Liberation Sans", sans-serif'>2141</text>
<text transform="translate(399.73,177.40) scale(0.8963,1)" font-size="8.20" fill="#0000ff" font-family='"Liberation Sans", sans-serif'>42587</text>
<text transform="translate(401.73,183.60) scale(0.9157,1)" font-size="8.20" fill="#ff0000" font-family='"Liberation Sans", sans-serif'>4746</text>
<text transform="translate(472.03,177.40) scale(0.9418,1)" font-size="8.20" fill="#0000ff" font-family='"Liberation Sans", sans-serif'>4630</text>
<text transform="translate(474.22,183.60) scale(0.9170,1)" font-size="8.20" fill="#ff0000" font-family='"Liberation Sans", sans-serif'>361</text>
<text transform="translate(540.85,177.40) scale(0.8903,1)" font-size="8.20" fill="#0000ff" font-family='"Liberation Sans", sans-serif'>10121</text>
<text transform="translate(544.83,183.60) scale(0.8953,1)" font-size="8.20" fill="#ff0000" font-family='"Liberation Sans", sans-serif'>680</text>
<text transform="translate(613.33,177.40) scale(0.9327,1)" font-size="8.20" fill="#0000ff" font-family='"Liberation Sans", sans-serif'>1843</text>
<text transform="translate(618.22,183.60) scale(0.8715,1)" font-size="8.20" fill="#ff0000" font-family='"Liberation Sans", sans-serif'>72</text>
<text transform="translate(59.46,387.20) scale(0.8814,1)" font-size="8.20" fill="#ff00ff" font-family='"Liberation Sans", sans-serif'>184022</text>
<text transform="translate(60.70,393.00) scale(0.9231,1)" font-size="8.20" fill="#000" font-family='"Liberation Sans", sans-serif'>59079</text>
<text transform="translate(130.10,387.20) scale(0.9261,1)" font-size="8.20" fill="#ff00ff" font-family='"Liberation Sans", sans-serif'>7447</text>
<text transform="translate(130.12,393.00) scale(0.9218,1)" font-size="8.20" fill="#000" font-family='"Liberation Sans", sans-serif'>2473</text>
<text transform="translate(195.43,387.20) scale(0.9332,1)" font-size="8.20" fill="#ff00ff" font-family='"Liberation Sans", sans-serif'>11206</text>
<text transform="translate(197.23,393.00) scale(0.9213,1)" font-size="8.20" fill="#000" font-family='"Liberation Sans", sans-serif'>4256</text>
<text transform="translate(264.33,387.20) scale(0.9280,1)" font-size="8.20" fill="#ff00ff" font-family='"Liberation Sans", sans-serif'>1349</text>
<text transform="translate(266.40,393.00) scale(0.9273,1)" font-size="8.20" fill="#000" font-family='"Liberation Sans", sans-serif'>772</text>
<text transform="translate(399.58,387.20) scale(0.9141,1)" font-size="8.20" fill="#ff00ff" font-family='"Liberation Sans", sans-serif'>49968</text>
<text transform="translate(399.37,393.00) scale(0.9260,1)" font-size="8.20" fill="#000" font-family='"Liberation Sans", sans-serif'>64902</text>
<text transform="translate(472.10,387.20) scale(0.9289,1)" font-size="8.20" fill="#ff00ff" font-family='"Liberation Sans", sans-serif'>5226</text>
<text transform="translate(474.24,393.00) scale(0.9262,1)" font-size="8.20" fill="#000" font-family='"Liberation Sans", sans-serif'>975</text>
<text transform="translate(540.93,387.20) scale(0.9285,1)" font-size="8.20" fill="#ff00ff" font-family='"Liberation Sans", sans-serif'>11526</text>
<text transform="translate(544.73,393.00) scale(0.9180,1)" font-size="8.20" fill="#000" font-family='"Liberation Sans", sans-serif'>840</text>
<text transform="translate(613.52,387.20) scale(0.9193,1)" font-size="8.20" fill="#ff00ff" font-family='"Liberation Sans", sans-serif'>2067</text>
<text transform="translate(617.40,393.00) scale(0.9729,1)" font-size="8.20" fill="#000" font-family='"Liberation Sans", sans-serif'>11</text>
<text transform="translate(406.33,63.80) scale(1.0138,1)" font-size="10.40" fill="#0000ff" font-family='"Liberation Sans", sans-serif'>Extended LMAs</text>
<text transform="translate(406.22,77.80) scale(1.0188,1)" font-size="10.40" fill="#ff0000" font-family='"Liberation Sans", sans-serif'>Isolated LMAs</text>
<text transform="translate(66.72,273.40) scale(1.0205,1)" font-size="10.40" fill="#ff00ff" font-family='"Liberation Sans", sans-serif'>B-line connected</text>
<text transform="translate(66.72,287.40) scale(1.0227,1)" font-size="10.40" fill="#000" font-family='"Liberation Sans", sans-serif'>B-line unconnected</text>
<text transform="translate(406.21,273.40) scale(1.0204,1)" font-size="10.40" fill="#ff00ff" font-family='"Liberation Sans", sans-serif'>upward e</text>
<text transform="translate(450.00,266.90) scale(0.9703,1)" font-size="6.80" fill="#ff00ff" font-family='"Liberation Sans", sans-serif'>-</text>
<text transform="translate(455.03,273.40) scale(1.0174,1)" font-size="10.40" fill="#ff00ff" font-family='"Liberation Sans", sans-serif'>D.E.F &gt; 10</text>
<text transform="translate(505.98,267.10) scale(0.9380,1)" font-size="6.80" fill="#ff00ff" font-family='"Liberation Sans", sans-serif'>6.29</text>
<text transform="translate(521.55,273.40) scale(1.0268,1)" font-size="10.40" fill="#ff00ff" font-family='"Liberation Sans", sans-serif'>eV cm</text>
<text transform="translate(551.72,267.10) scale(0.9278,1)" font-size="6.80" fill="#ff00ff" font-family='"Liberation Sans", sans-serif'>-2</text>
<text transform="translate(560.20,273.40) scale(1.0549,1)" font-size="10.40" fill="#ff00ff" font-family='"Liberation Sans", sans-serif'>s</text>
<text transform="translate(565.62,267.10) scale(0.9249,1)" font-size="6.80" fill="#ff00ff" font-family='"Liberation Sans", sans-serif'>-1</text>
<text transform="translate(574.53,273.40) scale(0.9494,1)" font-size="10.40" fill="#ff00ff" font-family='"Liberation Sans", sans-serif'>sr</text>
<text transform="translate(583.03,267.10) scale(0.8879,1)" font-size="6.80" fill="#ff00ff" font-family='"Liberation Sans", sans-serif'>-1</text>
<text transform="translate(591.55,273.40) scale(1.0147,1)" font-size="10.40" fill="#ff00ff" font-family='"Liberation Sans", sans-serif'>eV</text>
<text transform="translate(604.81,267.10) scale(0.9619,1)" font-size="6.80" fill="#ff00ff" font-family='"Liberation Sans", sans-serif'>-1</text>
<text transform="translate(406.21,287.30) scale(1.0204,1)" font-size="10.40" fill="#000" font-family='"Liberation Sans", sans-serif'>upward e</text>
<text transform="translate(450.00,280.80) scale(0.9703,1)" font-size="6.80" fill="#000" font-family='"Liberation Sans", sans-serif'>-</text>
<text transform="translate(455.03,287.30) scale(1.0174,1)" font-size="10.40" fill="#000" font-family='"Liberation Sans", sans-serif'>D.E.F &lt; 10</text>
<text transform="translate(506.05,281.00) scale(0.9317,1)" font-size="6.80" fill="#000" font-family='"Liberation Sans", sans-serif'>5.58</text>
<text transform="translate(521.55,287.30) scale(1.0268,1)" font-size="10.40" fill="#000" font-family='"Liberation Sans", sans-serif'>eV cm</text>
<text transform="translate(551.72,281.00) scale(0.9278,1)" font-size="6.80" fill="#000" font-family='"Liberation Sans", sans-serif'>-2</text>
<text transform="translate(560.20,287.30) scale(1.0549,1)" font-size="10.40" fill="#000" font-family='"Liberation Sans", sans-serif'>s</text>
<text transform="translate(565.62,281.00) scale(0.9249,1)" font-size="6.80" fill="#000" font-family='"Liberation Sans", sans-serif'>-1</text>
<text transform="translate(574.53,287.30) scale(0.9494,1)" font-size="10.40" fill="#000" font-family='"Liberation Sans", sans-serif'>sr</text>
<text transform="translate(583.03,281.00) scale(0.8879,1)" font-size="6.80" fill="#000" font-family='"Liberation Sans", sans-serif'>-1</text>
<text transform="translate(591.55,287.30) scale(1.0147,1)" font-size="10.40" fill="#000" font-family='"Liberation Sans", sans-serif'>eV</text>
<text transform="translate(604.81,281.00) scale(0.9619,1)" font-size="6.80" fill="#000" font-family='"Liberation Sans", sans-serif'>-1</text>
</svg>
</body></html>
